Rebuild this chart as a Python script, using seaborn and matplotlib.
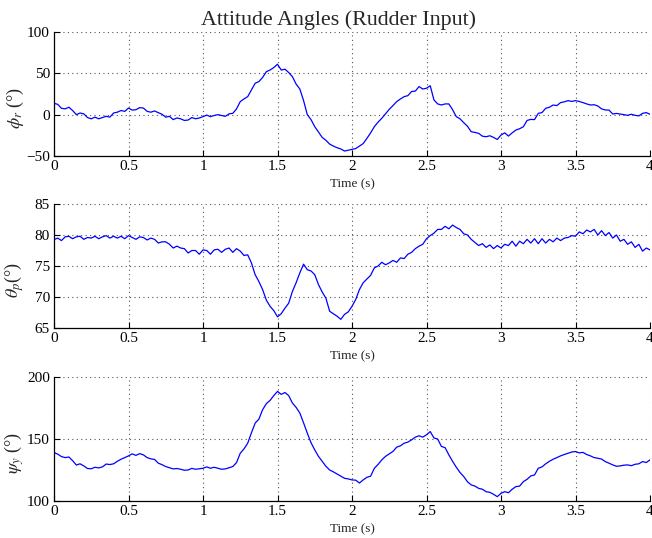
import numpy as np
import pandas as pd
import matplotlib
matplotlib.use("Agg")
import matplotlib.pyplot as plt
import seaborn as sns

# ---- data ----
time_s = [round(i * 0.025, 3) for i in range(161)]

phi_r = [13.7, 12.5, 7.7, 7.0, 9.0, 5.0, 0.0, 2.0, 1.0, -3.5,
         -5.0, -3.0, -5.0, -3.5, -2.0, -3.0, 2.0, 3.0, 5.0, 4.0,
         8.0, 5.5, 6.0, 8.5, 8.0, 4.0, 3.0, 4.5, 2.4, 0.5,
         -3.0, -2.0, -6.0, -4.0, -5.0, -7.0, -6.5, -3.5, -5.0, -4.0,
         -2.4, -0.5, -2.4, -1.0, 0.0, -1.0, -2.0, 1.0, 1.6, 7.0,
         15.8, 19.0, 21.8, 30.0, 38.0, 40.0, 45.0, 52.0, 54.0, 57.0,
         61.0, 54.0, 55.0, 51.0, 46.0, 37.0, 31.0, 17.0, 0.0, -6.0,
         -14.5, -21.0, -27.5, -31.0, -35.6, -38.0, -40.0, -41.5, -44.0, -43.0,
         -42.0, -41.0, -38.0, -35.0, -28.7, -22.0, -14.5, -9.0, -4.4, 1.0,
         6.5, 11.0, 15.8, 19.0, 21.8, 23.0, 28.0, 28.5, 34.0, 31.0,
         32.0, 35.0, 17.8, 13.0, 11.7, 13.0, 13.0, 6.0, -2.4, -5.0,
         -9.7, -14.0, -20.6, -21.5, -22.6, -26.0, -26.7, -25.5, -27.5, -30.0,
         -24.7, -22.0, -25.9, -22.0, -18.6, -17.0, -14.6, -7.0, -5.7, -6.0,
         1.6, 2.5, 7.7, 9.0, 11.7, 11.0, 14.6, 15.5, 17.0, 16.0,
         17.0, 16.0, 14.6, 13.0, 11.7, 12.0, 10.5, 7.0, 5.7, 5.5,
         0.8, 1.5, 0.8, 0.0, -0.8, 0.5, -0.8, -1.5, 1.6, 2.5,
         0.4]

theta_p = [79.25, 79.5, 79.1, 79.7, 79.8, 79.4, 79.7, 79.8, 79.3, 79.6,
           79.5, 79.8, 79.4, 79.7, 79.9, 79.5, 79.8, 79.5, 79.8, 79.4,
           79.9, 79.6, 79.3, 79.7, 79.6, 79.2, 79.5, 79.3, 78.7, 78.9,
           78.9, 78.5, 77.9, 78.2, 77.9, 77.8, 77.1, 77.5, 77.5, 76.9,
           77.6, 77.5, 76.9, 77.6, 77.7, 77.2, 77.7, 77.9, 77.2, 77.8,
           77.4, 76.7, 76.8, 75.5, 73.6, 72.5, 71.2, 69.5, 68.5, 67.8,
           66.8, 67.3, 68.2, 69.0, 70.9, 72.3, 73.9, 75.3, 74.4, 74.2,
           73.6, 72.0, 70.8, 69.8, 67.7, 67.3, 66.9, 66.4, 67.2, 67.6,
           68.5, 69.6, 71.2, 72.3, 72.9, 73.5, 74.7, 75.0, 75.6, 75.2,
           75.5, 75.9, 75.6, 76.3, 76.2, 76.9, 77.2, 77.8, 78.2, 78.5,
           79.4, 79.9, 80.3, 80.9, 80.9, 81.4, 81.0, 81.6, 81.2, 80.9,
           80.2, 80.0, 79.3, 78.8, 78.3, 78.6, 78.0, 78.4, 77.8, 78.3,
           77.9, 78.5, 78.3, 79.0, 78.2, 79.0, 78.6, 79.3, 78.7, 79.4,
           78.6, 79.4, 78.7, 79.3, 78.9, 79.5, 79.1, 79.5, 79.6, 79.9,
           79.8, 80.5, 80.2, 80.8, 80.5, 80.9, 80.0, 80.7, 79.9, 80.4,
           79.5, 80.0, 79.0, 79.3, 78.5, 78.9, 78.0, 78.5, 77.4, 77.9,
           77.6]

psi_y = [139.0, 137.8, 135.8, 135.0, 135.5, 132.5, 129.0, 130.0, 128.3, 126.2,
         126.0, 127.2, 126.7, 127.5, 129.8, 129.4, 130.0, 132.0, 133.7, 135.0,
         136.4, 138.0, 136.8, 138.2, 137.2, 135.0, 134.0, 133.5, 130.5, 129.3,
         127.8, 126.8, 125.9, 126.2, 125.6, 124.8, 125.0, 126.3, 125.6, 126.0,
         126.4, 127.5, 126.4, 127.2, 126.4, 125.6, 125.9, 126.8, 127.8, 131.0,
         138.5, 142.0, 146.6, 155.0, 162.8, 166.0, 173.6, 178.5, 181.1, 185.0,
         188.4, 186.0, 187.5, 185.0, 179.0, 175.5, 170.9, 163.0, 154.7, 147.0,
         141.2, 136.0, 132.0, 128.0, 125.0, 123.5, 121.8, 120.0, 118.3, 117.8,
         117.0, 116.8, 114.5, 117.0, 119.1, 120.0, 126.4, 129.5, 133.2, 136.0,
         138.0, 140.0, 143.4, 144.5, 146.6, 147.5, 149.3, 151.5, 152.6, 151.5,
         153.4, 156.0, 150.8, 150.0, 144.0, 143.0, 137.2, 132.0, 127.2, 123.0,
         119.7, 115.5, 113.0, 112.0, 110.2, 109.5, 107.5, 107.0, 105.4, 103.5,
         106.2, 107.5, 106.7, 109.5, 111.6, 112.0, 115.6, 117.5, 120.2, 121.0,
         126.4, 127.5, 130.0, 132.0, 133.7, 135.0, 136.4, 137.5, 138.5, 139.5,
         139.9, 138.8, 139.2, 137.5, 136.4, 135.0, 134.5, 133.8, 131.8, 130.5,
         129.1, 128.0, 128.3, 128.9, 129.1, 128.5, 129.6, 130.0, 131.8, 131.0,
         133.2]

series_names = ["phi_r", "theta_p", "psi_y"]
y_labels = [r"$\phi_{r}$ (°)", r"$\theta_{p}$(°)", r"$\psi_{y}$ (°)"]
y_limits = [(-50, 100), (65, 85), (100, 200)]
y_ticks = [[-50, 0, 50, 100], [65, 70, 75, 80, 85], [100, 150, 200]]
x_ticks = [0, 0.5, 1, 1.5, 2, 2.5, 3, 3.5, 4]
x_tick_labels = ["0", "0.5", "1", "1.5", "2", "2.5", "3", "3.5", "4"]
title = "Attitude Angles (Rudder Input)"
x_label = "Time (s)"

df = pd.DataFrame({"time": time_s, "phi_r": phi_r, "theta_p": theta_p, "psi_y": psi_y})

# ---- style ----
sns.set_style("ticks")
plt.rcParams["font.family"] = ["Liberation Serif", "DejaVu Serif"]
plt.rcParams["mathtext.fontset"] = "stix"
plt.rcParams["xtick.direction"] = "in"
plt.rcParams["ytick.direction"] = "in"

fig = plt.figure(figsize=(6.52, 5.38), dpi=100)
positions = [
    [54 / 652, 1 - 156 / 538, 596 / 652, 124 / 538],
    [54 / 652, 1 - 328 / 538, 596 / 652, 124 / 538],
    [54 / 652, 1 - 501 / 538, 596 / 652, 124 / 538],
]

for i, name in enumerate(series_names):
    ax = fig.add_axes(positions[i])
    sns.lineplot(data=df, x="time", y=name, ax=ax, color="#0000ff", linewidth=0.9)
    ax.set_xlim(0, 4)
    ax.set_ylim(*y_limits[i])
    ax.set_xticks(x_ticks)
    ax.set_xticklabels(x_tick_labels)
    ax.set_yticks(y_ticks[i])
    ax.tick_params(axis="both", labelsize=11, length=4, width=0.8, pad=3, colors="black")
    ax.grid(True, linestyle=(0, (1, 3)), color="#555555", linewidth=0.8)
    for s in ["top", "right"]:
        ax.spines[s].set_visible(False)
    for s in ["left", "bottom"]:
        ax.spines[s].set_color("black")
        ax.spines[s].set_linewidth(0.9)
    ax.set_xlabel(x_label, fontsize=9.5, labelpad=4)
    ax.set_ylabel(y_labels[i], fontsize=13)
    ax.yaxis.set_label_coords(-0.047, 0.39)
    if i == 0:
        ax.set_title(title, fontsize=15.8, x=0.478, pad=5)

fig.savefig("out.png", dpi=100)
